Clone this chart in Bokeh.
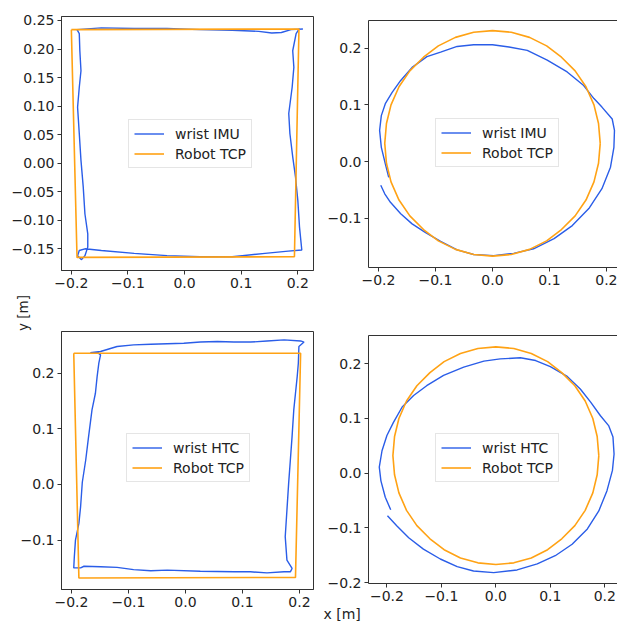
import math
from bokeh.plotting import figure
from bokeh.layouts import column, row
from bokeh.models import Range1d, FixedTicker, CustomJSTickFormatter, LinearAxis, Title, Spacer
from bokeh.core.properties import value
from bokeh.embed import file_html
from bokeh.resources import INLINE

# ---------------- data ----------------
imu_sq_x = [0.209, 0.188, 0.171, 0.154, 0.131, 0.084, 0.027, -0.031, -0.089, -0.147, -0.190, -0.186,
            -0.185, -0.183, -0.186, -0.189, -0.186, -0.183, -0.179, -0.176, -0.171, -0.171, -0.176,
            -0.182, -0.189, -0.186, -0.176, -0.147, -0.089, -0.031, 0.027, 0.084, 0.142, 0.183, 0.207,
            0.203, 0.200, 0.196, 0.191, 0.186, 0.184, 0.190, 0.193, 0.191, 0.197, 0.203]
imu_sq_y = [0.235, 0.234, 0.229, 0.228, 0.231, 0.233, 0.234, 0.236, 0.236, 0.237, 0.234, 0.227,
            0.197, 0.162, 0.133, 0.098, 0.052, 0.005, -0.042, -0.089, -0.124, -0.147, -0.162,
            -0.169, -0.162, -0.153, -0.150, -0.153, -0.158, -0.162, -0.164, -0.164, -0.158, -0.154, -0.152,
            -0.112, -0.065, -0.025, 0.011, 0.052, 0.087, 0.133, 0.168, 0.197, 0.227, 0.236]

tcp_sq1_x = [-0.200, 0.202, 0.194, -0.190, -0.200]
tcp_sq1_y = [0.234, 0.235, -0.164, -0.165, 0.234]

htc_sq_x = [-0.167, -0.149, -0.120, -0.091, -0.061, -0.032, -0.003, 0.026, 0.056, 0.085, 0.114, 0.143,
            0.173, 0.202, 0.208, 0.199, 0.198, 0.196, 0.193, 0.190, 0.187, 0.184, 0.181, 0.178, 0.175,
            0.178, 0.187, 0.184, 0.173, 0.143, 0.114, 0.085, 0.026, -0.032, -0.061, -0.091, -0.120,
            -0.149, -0.178, -0.184, -0.196, -0.195, -0.193, -0.187, -0.184, -0.181, -0.175, -0.170,
            -0.164, -0.158, -0.155, -0.152, -0.149, -0.155, -0.167]
htc_sq_y = [0.237, 0.239, 0.248, 0.251, 0.252, 0.253, 0.254, 0.256, 0.257, 0.256, 0.256, 0.258,
            0.260, 0.258, 0.256, 0.248, 0.218, 0.194, 0.164, 0.134, 0.086, 0.044, 0.002, -0.046, -0.094,
            -0.136, -0.151, -0.157, -0.157, -0.159, -0.157, -0.157, -0.156, -0.154, -0.155, -0.153, -0.149,
            -0.148, -0.147, -0.150, -0.150, -0.130, -0.100, -0.070, -0.040, 0.004, 0.044, 0.086,
            0.134, 0.164, 0.194, 0.218, 0.233, 0.238, 0.237]

tcp_sq2_x = [-0.196, 0.202, 0.193, -0.187, -0.196]
tcp_sq2_y = [0.236, 0.236, -0.167, -0.168, 0.236]

imu_c_x = [-0.182, -0.188, -0.195, -0.198, -0.195, -0.188, -0.176, -0.161, -0.141, -0.115, -0.091,
           -0.062, -0.033, 0.000, 0.029, 0.061, 0.096, 0.131, 0.160, 0.178, 0.192, 0.210, 0.214, 0.213,
           0.207, 0.192, 0.169, 0.140, 0.108, 0.072, 0.037, 0.002, -0.033, -0.062, -0.091, -0.118,
           -0.141, -0.161, -0.179, -0.189, -0.196]
imu_c_y = [-0.028, -0.004, 0.025, 0.055, 0.081, 0.102, 0.122, 0.143, 0.166, 0.185, 0.193,
           0.203, 0.206, 0.206, 0.202, 0.196, 0.179, 0.158, 0.134, 0.111, 0.096, 0.075, 0.055, 0.025,
           -0.010, -0.048, -0.083, -0.113, -0.136, -0.154, -0.162, -0.166, -0.164, -0.156, -0.141, -0.125,
           -0.110, -0.092, -0.072, -0.057, -0.042]

htc_c_x = [-0.193, -0.203, -0.211, -0.214, -0.209, -0.200, -0.188, -0.172, -0.151, -0.127, -0.096,
           -0.059, -0.022, 0.008, 0.045, 0.073, 0.100, 0.131, 0.155, 0.174, 0.192, 0.207, 0.215, 0.217,
           0.214, 0.204, 0.189, 0.168, 0.140, 0.109, 0.076, 0.039, -0.004, -0.041, -0.071, -0.102,
           -0.133, -0.160, -0.182, -0.199]
htc_c_y = [-0.067, -0.044, -0.014, 0.011, 0.041, 0.069, 0.093, 0.121, 0.142, 0.160, 0.179,
           0.194, 0.205, 0.209, 0.211, 0.206, 0.195, 0.177, 0.154, 0.130, 0.105, 0.087, 0.066, 0.035,
           0.005, -0.032, -0.069, -0.102, -0.130, -0.151, -0.166, -0.177, -0.182, -0.179, -0.171, -0.157,
           -0.139, -0.118, -0.096, -0.078]

tcp_c_x = [0.189, 0.186, 0.178, 0.164, 0.145, 0.121, 0.095, 0.065, 0.033, 0.000, -0.033, -0.065,
           -0.095, -0.121, -0.145, -0.164, -0.178, -0.186, -0.189, -0.186, -0.178, -0.164, -0.145,
           -0.121, -0.095, -0.065, -0.033, 0.000, 0.033, 0.065, 0.095, 0.121, 0.145, 0.164, 0.178,
           0.186, 0.189]
tcp_c_y = [0.032, 0.067, 0.100, 0.132, 0.160, 0.184, 0.204, 0.219, 0.228, 0.231, 0.228, 0.219,
           0.204, 0.184, 0.160, 0.132, 0.100, 0.067, 0.032, -0.003, -0.036, -0.068, -0.096,
           -0.120, -0.140, -0.155, -0.164, -0.167, -0.164, -0.155, -0.140, -0.120, -0.096, -0.068, -0.036,
           -0.003, 0.032]

ticks_025 = [-0.15, -0.10, -0.05, 0.0, 0.05, 0.10, 0.15, 0.20, 0.25]
ticks_02 = [-0.2, -0.1, 0.0, 0.1, 0.2]
ticks_y2 = [-0.1, 0.0, 0.1, 0.2]
ticks_y4 = [-0.2, -0.1, 0.0, 0.1, 0.2]

x_label = "x [m]"
y_label = "y [m]"

BLUE = "#2a5de8"
ORANGE = "#ffa214"
FONT = "DejaVu Sans"
FS = "14px"
AX = "#333333"
TXT = "#222222"


def fmt(dec):
    return CustomJSTickFormatter(args=dict(d=dec), code="""
        const s = Math.abs(tick).toFixed(d);
        return (tick < -1e-9 ? '\u2212' : '') + s;
    """)


def style_axis(ax, ticks, dec):
    ax.ticker = FixedTicker(ticks=ticks)
    ax.formatter = fmt(dec)
    ax.major_label_text_font = FONT
    ax.major_label_text_font_size = FS
    ax.major_label_text_color = TXT
    ax.major_tick_in = 0
    ax.major_tick_out = 4
    ax.minor_tick_line_color = None
    ax.major_label_standoff = 3
    ax.axis_line_color = AX
    ax.major_tick_line_color = AX


def make_fig(w, h, bl, br, bt, bb, xr, yr, xt, yt, ydec, full_frame):
    p = figure(width=w, height=h, output_backend="svg", toolbar_location=None,
               x_range=Range1d(*xr), y_range=Range1d(*yr))
    p.min_border = 0
    p.min_border_left = bl
    p.min_border_right = br
    p.min_border_top = bt
    p.min_border_bottom = bb
    p.grid.visible = False
    p.background_fill_color = "white"
    p.border_fill_color = "white"
    style_axis(p.xaxis[0], xt, 1)
    style_axis(p.yaxis[0], yt, ydec)
    if full_frame:
        p.outline_line_color = AX
        p.outline_line_width = 1
    else:
        p.outline_line_color = None
        top = LinearAxis(ticker=FixedTicker(ticks=[]), major_label_text_font_size="0px",
                         major_tick_out=0, major_tick_in=0, minor_tick_out=0, minor_tick_in=0,
                         axis_line_color=AX)
        p.add_layout(top, "above")
    return p


def style_legend(p, vx, vy):
    lg = p.legend[0]
    lg.location = (vx, vy)
    lg.label_text_font = FONT
    lg.label_text_font_size = FS
    lg.label_text_color = TXT
    lg.glyph_width = 30
    lg.glyph_height = 17
    lg.label_height = 17
    lg.label_standoff = 11
    lg.padding = 5
    lg.spacing = 3
    lg.margin = 0
    lg.border_line_color = "#cccccc"
    lg.border_line_width = 1
    lg.background_fill_alpha = 0.8


# top-left: square, wrist IMU
p1 = make_fig(322, 294, 59, 6, 16, 24, (-0.2174, 0.2277), (-0.188, 0.257),
              ticks_02, ticks_025, 2, True)
p1.line(imu_sq_x, imu_sq_y, line_color=BLUE, line_width=1.4, legend_label="wrist IMU")
p1.line(tcp_sq1_x, tcp_sq1_y, line_color=ORANGE, line_width=1.6, legend_label="Robot TCP")
style_legend(p1, 67, 102)

# small panel holding the shared y label, between the two left panels
ylab = figure(width=46, height=37, output_backend="svg", toolbar_location=None,
              x_range=Range1d(0, 46), y_range=Range1d(0, 37),
              x_axis_location=None, y_axis_location=None)
ylab.min_border = 0
ylab.grid.visible = False
ylab.outline_line_color = None
ylab.text(x=[22.5], y=[18.5], text=[y_label], angle=math.pi / 2,
          text_align="center", text_baseline="middle",
          text_font=value(FONT), text_font_size="13.5px", text_color=TXT)
ylab_row = row(ylab, Spacer(width=276, height=37), spacing=0)

# bottom-left: square, wrist HTC
p3 = make_fig(322, 295, 61, 9, 0, 37, (-0.2175, 0.2246), (-0.1888, 0.2750),
              ticks_02, ticks_y2, 1, True)
p3.line(htc_sq_x, htc_sq_y, line_color=BLUE, line_width=1.4, legend_label="wrist HTC")
p3.line(tcp_sq2_x, tcp_sq2_y, line_color=ORANGE, line_width=1.6, legend_label="Robot TCP")
style_legend(p3, 65, 107)

# top-right: circle, wrist IMU
p2 = make_fig(295, 320, 46, 0, 20, 53, (-0.2175, 0.2193), (-0.187, 0.2488),
              ticks_02, ticks_y2, 1, False)
p2.line(imu_c_x, imu_c_y, line_color=BLUE, line_width=1.4, legend_label="wrist IMU")
p2.line(tcp_c_x, tcp_c_y, line_color=ORANGE, line_width=1.6, legend_label="Robot TCP")
style_legend(p2, 67, 100)

# bottom-right: circle, wrist HTC
p4 = make_fig(295, 306, 46, 0, 15, 43, (-0.2338, 0.2233), (-0.2018, 0.2518),
              ticks_02, ticks_y4, 1, False)
p4.line(htc_c_x, htc_c_y, line_color=BLUE, line_width=1.4, legend_label="wrist HTC")
p4.line(tcp_c_x, tcp_c_y, line_color=ORANGE, line_width=1.6, legend_label="Robot TCP")
style_legend(p4, 67, 101)
p4.add_layout(Title(text=x_label, align="left", offset=-45, standoff=0,
                    text_font=FONT, text_font_size=FS, text_font_style="normal",
                    text_color=TXT), "below")

layout = row(column(p1, ylab_row, p3, spacing=0), column(p2, p4, spacing=0), spacing=0)

open("out.html", "w").write(file_html(layout, INLINE))
